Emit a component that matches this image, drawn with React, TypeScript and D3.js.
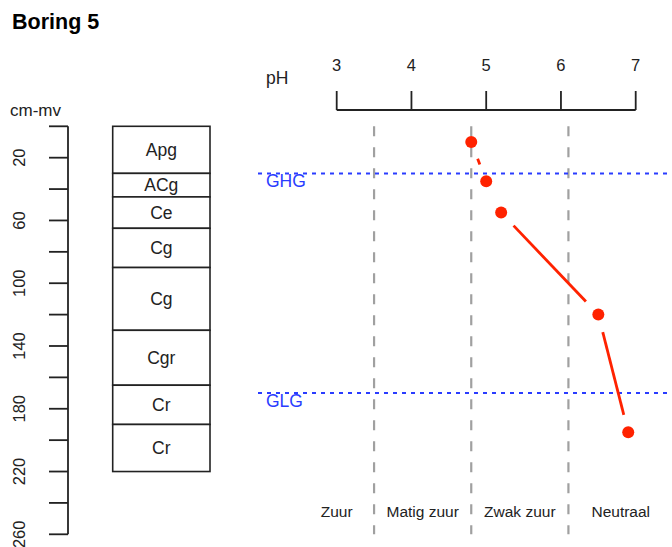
import * as d3 from "d3";

// horizonten van de boring (cm-mv)
const horizons = ["Apg", "ACg", "Ce", "Cg", "Cg", "Cgr", "Cr", "Cr"];
const horizonTop = [0, 30, 45, 65, 90, 130, 165, 190];
const horizonBottom = [30, 45, 65, 90, 130, 165, 190, 220];

// pH metingen
const sampleDepth = [10, 35, 55, 120, 195];
const samplePH = [4.8, 5.0, 5.2, 6.5, 6.9];

// grondwatertrappen
const gwLabels = ["GHG", "GLG"];
const gwDepth = [30, 170];

// pH klassen
const classLabels = ["Zuur", "Matig zuur", "Zwak zuur", "Neutraal"];
const classBounds = [2.5, 3.5, 4.8, 6.1, 7.5];

const depthTicks = d3.range(0, 261, 20);
const depthLabels = [20, 60, 100, 140, 180, 220, 260];
const phTicks = [3, 4, 5, 6, 7];

const W = 672;
const H = 547;
const font = "'Liberation Sans', Arial, Helvetica, sans-serif";
const red = "#ff2200";
const blue = "#2a3cff";

export default function App() {
  const y = d3.scaleLinear().domain([0, 260]).range([126.3, 534.3]);
  const x = d3.scaleLinear().domain([3, 7]).range([336.7, 635.7]);
  const axisX = 68;
  const tickLen = 19;
  const phAxisY = 110;
  const boxLeft = 112.7;
  const boxRight = 210;
  const gwStart = 258;
  const gap = 18;

  const pts = samplePH.map((p, i) => [x(p), y(sampleDepth[i])]);
  const segments: number[][] = [];
  for (let i = 0; i < pts.length - 1; i++) {
    const [x1, y1] = pts[i];
    const [x2, y2] = pts[i + 1];
    const d = Math.hypot(x2 - x1, y2 - y1);
    if (d <= 2 * gap) continue;
    const ux = (x2 - x1) / d;
    const uy = (y2 - y1) / d;
    segments.push([x1 + ux * gap, y1 + uy * gap, x2 - ux * gap, y2 - uy * gap]);
  }

  const boundaries = classBounds.slice(1, -1);

  return (
    <div style={{ position: "fixed", left: 0, top: 0 }}>
      <svg width={W} height={H} style={{ display: "block", background: "#fff" }} fontFamily={font}>
        <text x={12} y={29} fontSize={21.5} fontWeight="bold" fill="#000">Boring 5</text>

        {/* diepte-as */}
        <text x={10} y={116} fontSize={17} fill="#222">cm-mv</text>
        <line x1={axisX} x2={axisX} y1={y(0)} y2={y(260)} stroke="#222" strokeWidth={1.8} />
        {depthTicks.map((t) => (
          <line key={t} x1={axisX - tickLen} x2={axisX} y1={y(t)} y2={y(t)} stroke="#222" strokeWidth={1.8} />
        ))}
        {depthLabels.map((t) => (
          <text key={t} transform={`translate(25,${y(t)}) rotate(-90)`} textAnchor="middle" fontSize={16.5} fill="#222">{t}</text>
        ))}

        {/* horizonten */}
        {horizons.map((h, i) => (
          <g key={i}>
            <rect x={boxLeft} y={y(horizonTop[i])} width={boxRight - boxLeft} height={y(horizonBottom[i]) - y(horizonTop[i])}
              fill="#fff" stroke="#222" strokeWidth={1.6} />
            <text x={(boxLeft + boxRight) / 2} y={(y(horizonTop[i]) + y(horizonBottom[i])) / 2} dy="0.36em"
              textAnchor="middle" fontSize={17.5} fill="#222">{h}</text>
          </g>
        ))}

        {/* pH-as */}
        <text x={266} y={84} fontSize={17.5} fill="#222">pH</text>
        <line x1={x(3)} x2={x(7)} y1={phAxisY} y2={phAxisY} stroke="#222" strokeWidth={1.8} />
        {phTicks.map((t) => (
          <g key={t}>
            <line x1={x(t)} x2={x(t)} y1={phAxisY - tickLen} y2={phAxisY} stroke="#222" strokeWidth={1.8} />
            <text x={x(t)} y={71} textAnchor="middle" fontSize={16.5} fill="#222">{t}</text>
          </g>
        ))}

        {/* klassegrenzen */}
        {boundaries.map((b) => (
          <line key={b} x1={x(b)} x2={x(b)} y1={y(0)} y2={y(260)} stroke="#a0a0a0" strokeWidth={2.2} strokeDasharray="10,11" />
        ))}
        {classLabels.map((c, i) => (
          <text key={c} x={x((classBounds[i] + classBounds[i + 1]) / 2)} y={517} textAnchor="middle" fontSize={15.5} fill="#222">{c}</text>
        ))}

        {/* grondwater */}
        {gwLabels.map((g, i) => (
          <g key={g}>
            <line x1={gwStart} x2={W} y1={y(gwDepth[i])} y2={y(gwDepth[i])} stroke={blue} strokeWidth={2} strokeDasharray="4,5" />
            <text x={266} y={y(gwDepth[i]) + 14} fontSize={17.5} fill={blue}>{g}</text>
          </g>
        ))}

        {/* pH profiel */}
        {segments.map((s, i) => (
          <line key={i} x1={s[0]} y1={s[1]} x2={s[2]} y2={s[3]} stroke={red} strokeWidth={2.8} />
        ))}
        {pts.map((p, i) => (
          <circle key={i} cx={p[0]} cy={p[1]} r={6} fill={red} />
        ))}
      </svg>
    </div>
  );
}
